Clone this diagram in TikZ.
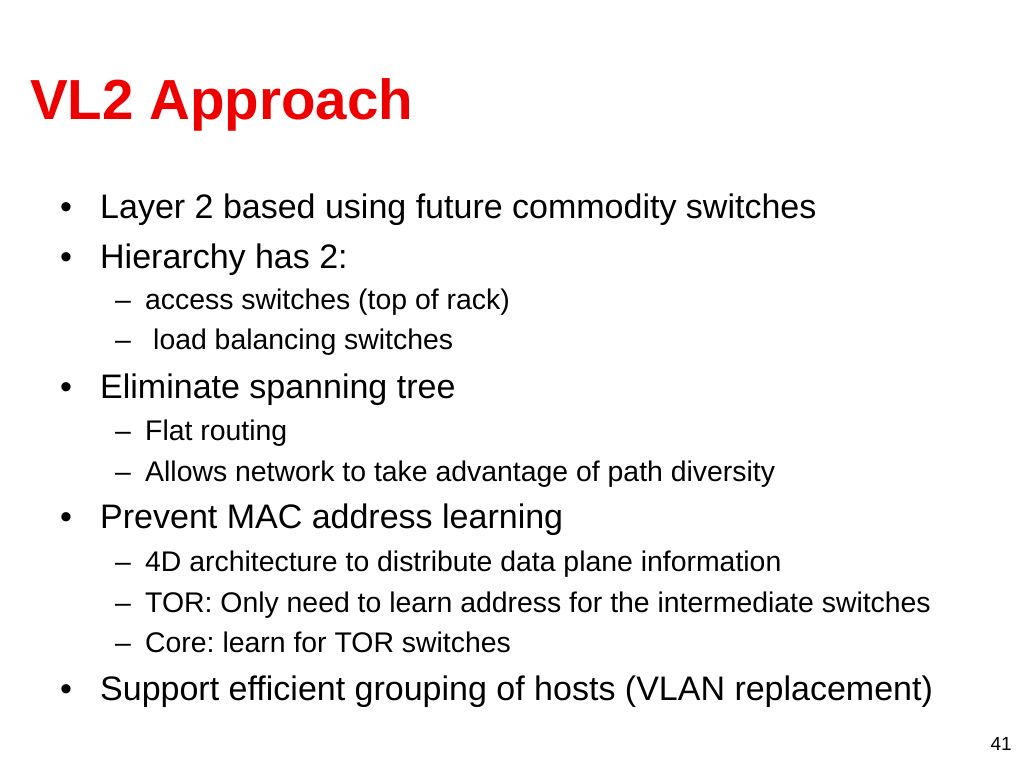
\documentclass[tikz,border=0pt]{standalone}
\usepackage{fontspec}
\setmainfont{Liberation Sans}[Ligatures=NoCommon]
\frenchspacing
\definecolor{titlered}{RGB}{238,0,0}
\tikzset{
  titletext/.style={anchor=base west, inner sep=0pt, text=titlered, font=\fontsize{56.5}{60}\selectfont\bfseries},
  bultext/.style={anchor=base west, inner sep=0pt, font=\fontsize{34}{38}\selectfont},
  subtext/.style={anchor=base west, inner sep=0pt, font=\fontsize{28.4}{32}\selectfont},
  pagetext/.style={anchor=base east, inner sep=0pt, font=\fontsize{19}{21}\selectfont}
}
\begin{document}
\begin{tikzpicture}[x=1pt, y=-1pt]
		%%%%% SLIDE %%%%%
		\useasboundingbox[fill=white] (0, 0) rectangle (1024, 768);
		
		\node[titletext] (title) at (30, 119) {VL2 Approach};
		
		% first level
		\node[bultext] (b1dot) at (60, 218) {•};
		\node[bultext] (b1) at (100, 218) {Layer 2 based using future commodity switches};
		\node[bultext] (b2dot) at (60, 268) {•};
		\node[bultext] (b2) at (100, 268) {Hierarchy has 2:};
		
		\node[subtext] (s21dash) at (115, 309) {–};
		\node[subtext] (s21) at (145, 309) {access switches (top of rack)};
		\node[subtext] (s22dash) at (115, 349) {–};
		\node[subtext] (s22) at (153, 349) {load balancing switches};
		
		\node[bultext] (b3dot) at (60, 398) {•};
		\node[bultext] (b3) at (100, 398) {Eliminate spanning tree};
		
		\node[subtext] (s31dash) at (115, 440) {–};
		\node[subtext] (s31) at (145, 440) {Flat routing};
		\node[subtext] (s32dash) at (115, 481) {–};
		\node[subtext] (s32) at (145, 481) {Allows network to take advantage of path diversity};
		
		\node[bultext] (b4dot) at (60, 528) {•};
		\node[bultext] (b4) at (100, 528) {Prevent MAC address learning};
		
		\node[subtext] (s41dash) at (115, 571) {–};
		\node[subtext] (s41) at (145, 571) {4D architecture to distribute data plane information};
		\node[subtext] (s42dash) at (115, 612) {–};
		\node[subtext] (s42) at (145, 612) {TOR: Only need to learn address for the intermediate switches};
		\node[subtext] (s43dash) at (115, 652) {–};
		\node[subtext] (s43) at (145, 652) {Core: learn for TOR switches};
		
		\node[bultext] (b5dot) at (60, 700) {•};
		\node[bultext] (b5) at (100, 700) {Support efficient grouping of hosts (VLAN replacement)};
		
		\node[pagetext] (pagenum) at (1012, 750) {41};
		
		%%%%% END %%%%%
\end{tikzpicture}
\end{document}
